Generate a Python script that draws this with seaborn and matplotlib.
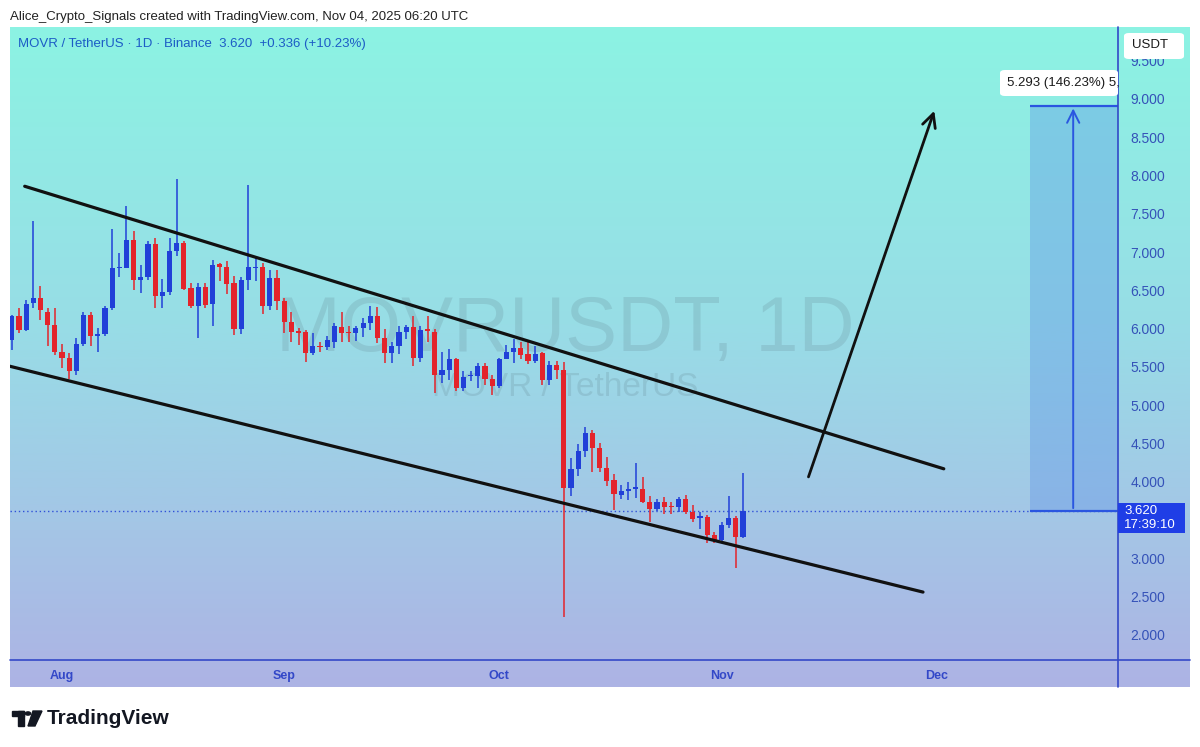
import matplotlib
matplotlib.use("Agg")
import matplotlib.pyplot as plt
import matplotlib.dates as mdates
from matplotlib.colors import LinearSegmentedColormap
from matplotlib.patches import FancyBboxPatch, Rectangle, Polygon, Circle
from matplotlib.lines import Line2D
import numpy as np
import pandas as pd
import seaborn as sns

# MOVR/USDT daily candles, Jul 25 -> Nov 4 2025
first_day = "2025-07-25"
opens = [5.85, 6.16, 5.98, 6.33, 6.40, 6.22, 6.05, 5.70, 5.62, 5.45,
         5.80, 6.18, 5.90, 5.93, 6.27, 6.79, 6.79, 7.16, 6.63, 6.68,
         7.11, 6.43, 6.48, 7.02, 7.12, 6.53, 6.29, 6.54, 6.32, 6.84,
         6.81, 6.60, 5.99, 6.64, 6.79, 6.81, 6.30, 6.66, 6.36, 6.09,
         5.97, 5.96, 5.68, 5.78, 5.76, 5.83, 6.02, 5.95, 5.94, 6.01,
         6.07, 6.16, 5.88, 5.68, 5.77, 5.96, 6.02, 5.62, 5.98, 5.96,
         5.40, 5.46, 5.60, 5.22, 5.38, 5.38, 5.51, 5.34, 5.25, 5.61,
         5.69, 5.75, 5.67, 5.58, 5.68, 5.33, 5.53, 5.46, 3.92, 4.17,
         4.40, 4.64, 4.44, 4.18, 4.03, 3.83, 3.88, 3.91, 3.91, 3.74,
         3.64, 3.73, 3.68, 3.67, 3.77, 3.61, 3.53, 3.54, 3.30, 3.24,
         3.44, 3.53, 3.28]
highs = [6.18, 6.27, 6.37, 7.40, 6.56, 6.27, 6.27, 5.80, 5.68, 5.88,
         6.22, 6.22, 6.01, 6.29, 7.30, 6.99, 7.60, 7.28, 6.83, 7.15,
         7.18, 6.65, 7.18, 7.96, 7.14, 6.60, 6.60, 6.60, 6.90, 6.86,
         6.88, 6.69, 6.68, 7.88, 6.93, 6.86, 6.77, 6.77, 6.40, 6.22,
         6.01, 5.98, 5.95, 5.83, 5.90, 6.08, 6.22, 6.04, 6.04, 6.14,
         6.29, 6.28, 5.99, 5.83, 6.04, 6.05, 6.17, 6.03, 6.17, 6.00,
         5.70, 5.73, 5.62, 5.45, 5.45, 5.55, 5.55, 5.40, 5.62, 5.79,
         5.86, 5.83, 5.85, 5.77, 5.70, 5.58, 5.58, 5.57, 4.31, 4.50,
         4.72, 4.68, 4.51, 4.32, 4.10, 3.96, 4.00, 4.24, 4.06, 3.82,
         3.78, 3.80, 3.73, 3.80, 3.83, 3.70, 3.61, 3.57, 3.35, 3.47,
         3.81, 3.56, 4.11]
lows = [5.72, 5.95, 5.97, 6.27, 6.11, 5.77, 5.66, 5.49, 5.34, 5.40,
        5.77, 5.77, 5.70, 5.90, 6.24, 6.68, 6.79, 6.51, 6.46, 6.64,
        6.27, 6.27, 6.44, 6.95, 6.51, 6.27, 5.88, 6.27, 6.03, 6.62,
        6.45, 5.92, 5.93, 6.51, 6.62, 6.19, 6.25, 6.25, 5.94, 5.83,
        5.79, 5.57, 5.66, 5.69, 5.72, 5.75, 5.83, 5.83, 5.84, 5.89,
        5.98, 5.81, 5.55, 5.55, 5.67, 5.86, 5.51, 5.57, 5.83, 5.16,
        5.29, 5.33, 5.18, 5.18, 5.32, 5.22, 5.27, 5.14, 5.22, 5.60,
        5.55, 5.60, 5.54, 5.55, 5.27, 5.27, 5.34, 2.24, 3.81, 4.07,
        4.32, 4.13, 4.13, 3.94, 3.63, 3.77, 3.76, 3.79, 3.72, 3.48,
        3.62, 3.58, 3.58, 3.61, 3.58, 3.48, 3.38, 3.20, 3.20, 3.23,
        3.40, 2.87, 3.27]
closes = [6.16, 5.98, 6.32, 6.40, 6.24, 6.05, 5.69, 5.62, 5.45, 5.80,
          6.18, 5.90, 5.93, 6.27, 6.79, 6.81, 7.16, 6.63, 6.68, 7.11,
          6.43, 6.48, 7.02, 7.12, 6.52, 6.29, 6.54, 6.31, 6.83, 6.81,
          6.59, 5.99, 6.64, 6.80, 6.81, 6.30, 6.66, 6.36, 6.09, 5.96,
          5.94, 5.68, 5.77, 5.76, 5.85, 6.03, 5.94, 5.94, 6.01, 6.07,
          6.16, 5.88, 5.68, 5.77, 5.96, 6.02, 5.62, 5.98, 5.97, 5.40,
          5.46, 5.60, 5.22, 5.37, 5.40, 5.51, 5.34, 5.25, 5.61, 5.69,
          5.75, 5.66, 5.58, 5.67, 5.33, 5.53, 5.46, 3.92, 4.17, 4.40,
          4.64, 4.44, 4.18, 4.01, 3.84, 3.88, 3.91, 3.92, 3.74, 3.64,
          3.73, 3.67, 3.67, 3.77, 3.61, 3.51, 3.54, 3.30, 3.23, 3.44,
          3.53, 3.28, 3.62]

price_ticks = [2.0, 2.5, 3.0, 4.0, 4.5, 5.0, 5.5, 6.0, 6.5, 7.0, 7.5, 8.0, 8.5, 9.0, 9.5]
month_ticks = ["2025-08-01", "2025-09-01", "2025-10-01", "2025-11-01", "2025-12-01"]
month_labels = ["Aug", "Sep", "Oct", "Nov", "Dec"]

# drawings on the chart, x as days after Aug 1
upper_days = [-5.2, 123.0]
upper_prices = [7.86, 4.17]
lower_days = [-7.3, 120.1]
lower_prices = [5.51, 2.56]
arrow_days = [104.0, 121.8]
arrow_prices = [4.03, 8.88]
target_days = [135.0, 147.3]
last_price = 3.620
target_price = 8.913

W, H = 1200, 747
UP, DOWN = "#2140d8", "#e3242b"
AXIS_BLUE = "#3348c8"


def fx(px):
    return px / W


def fy(py):
    return 1 - py / H


sns.set_theme(style="white")
plt.rcParams["font.family"] = ["Liberation Sans", "DejaVu Sans"]

fig = plt.figure(figsize=(W / 100, H / 100), dpi=100)
fig.patch.set_facecolor("white")

# gradient panel behind everything
bg = fig.add_axes([fx(10), fy(687), fx(1190) - fx(10), fy(27) - fy(687)])
cmap = LinearSegmentedColormap.from_list(
    "tv", [(0, "#8cf3e3"), (0.45, "#98dde6"), (0.75, "#a4c6e6"), (1, "#adb3e4")])
bg.imshow(np.linspace(0, 1, 256)[:, None], aspect="auto", cmap=cmap,
          extent=[0, 1, 0, 1], origin="upper")
bg.axis("off")

ax = fig.add_axes([fx(10), fy(660), fx(1118) - fx(10), fy(27) - fy(660)])
ax.set_facecolor("none")

aug1 = mdates.date2num(pd.Timestamp("2025-08-01"))
dates = pd.date_range(first_day, periods=len(opens), freq="D")
x = mdates.date2num(dates)
o, h, l, c = map(np.array, (opens, highs, lows, closes))
colors = np.where(c >= o, UP, DOWN)

# watermark
ax.text(0.501, 0.521, "MOVRUSDT, 1D", transform=ax.transAxes, ha="center", va="center",
        fontsize=56, color="#5d7d88", alpha=0.2, zorder=0)
ax.text(0.501, 0.431, "MOVR / TetherUS", transform=ax.transAxes, ha="center", va="center",
        fontsize=24, color="#5d7d88", alpha=0.2, zorder=0)

# candles
ax.vlines(x, l, h, colors=colors, lw=1.1, zorder=2)
ax.bar(x, np.maximum(np.abs(c - o), 0.02), bottom=np.minimum(o, c), width=0.72,
       color=colors, linewidth=0, zorder=3)

# channel
sns.lineplot(x=aug1 + np.array(upper_days), y=upper_prices, ax=ax, color="#111111", lw=2.3, zorder=4)
sns.lineplot(x=aug1 + np.array(lower_days), y=lower_prices, ax=ax, color="#111111", lw=2.3, zorder=4)
ax.annotate("", xy=(aug1 + arrow_days[1], arrow_prices[1]),
            xytext=(aug1 + arrow_days[0], arrow_prices[0]),
            arrowprops=dict(arrowstyle="->", color="#111111", lw=2, mutation_scale=24), zorder=4)

# long-position projection
tx0, tx1 = aug1 + target_days[0], aug1 + target_days[1]
ax.add_patch(Rectangle((tx0, last_price), tx1 - tx0, target_price - last_price,
                       facecolor="#5a8ee6", alpha=0.35, lw=0, zorder=1))
ax.hlines([last_price, target_price], tx0, tx1, colors="#2a56e0", lw=1.6, zorder=4)
xm = (tx0 + tx1) / 2 - 0.1
ax.annotate("", xy=(xm, target_price), xytext=(xm, last_price),
            arrowprops=dict(arrowstyle="->", color="#2a56e0", lw=1.4, mutation_scale=22), zorder=4)

# last price dotted line
ax.axhline(last_price, color="#3050d8", lw=1, ls=(0, (1, 2)), zorder=1)

ax.set_xlim(aug1 - 7.25, aug1 + 147.3)
ax.set_ylim(1.673, 9.94)
ax.set_xticks(mdates.date2num(pd.to_datetime(month_ticks)))
ax.set_xticklabels(month_labels, fontweight="bold")
ax.yaxis.tick_right()
ax.set_yticks(price_ticks)
ax.set_yticklabels([f"{v:.3f}" for v in price_ticks])
ax.tick_params(axis="x", length=0, pad=7, labelsize=9, labelcolor=AXIS_BLUE)
ax.tick_params(axis="y", length=0, pad=9, labelsize=10, labelcolor="#3552b8")
for s in ax.spines.values():
    s.set_visible(False)
ax.grid(False)

# scale separators
fig.add_artist(Line2D([fx(1118), fx(1118)], [fy(27), fy(687)], color=AXIS_BLUE, lw=1.2))
fig.add_artist(Line2D([fx(10), fx(1190)], [fy(660), fy(660)], color=AXIS_BLUE, lw=1.2))

# labels on the price scale
fig.add_artist(FancyBboxPatch((fx(1124), fy(59)), fx(60), 26 / H, boxstyle="round,pad=0,rounding_size=0.004",
                              transform=fig.transFigure, facecolor="white", edgecolor="none", zorder=5))
fig.text(fx(1132), fy(45), "USDT", fontsize=9.5, color="#1a1a1a", va="center", zorder=6)
fig.add_artist(Rectangle((fx(1118), fy(533)), fx(67), 30 / H, transform=fig.transFigure,
                         facecolor="#1f3ee6", edgecolor="none", zorder=5))
fig.text(fx(1124), fy(511), f"{last_price:.3f}", fontsize=9.5, color="white", va="center", zorder=6)
fig.text(fx(1124), fy(525), "17:39:10", fontsize=9.5, color="white", va="center", zorder=6)

# projection label
fig.add_artist(FancyBboxPatch((fx(1000), fy(96)), fx(118), 26 / H, boxstyle="round,pad=0,rounding_size=0.004",
                              transform=fig.transFigure, facecolor="white", edgecolor="none", zorder=5))
fig.text(fx(1007), fy(83), "5.293 (146.23%) 5,", fontsize=9.5, color="#1a1a1a", va="center", zorder=6)

# headers
fig.text(fx(10), fy(17), "Alice_Crypto_Signals created with TradingView.com, Nov 04, 2025 06:20 UTC",
         fontsize=9.5, color="#222222", va="center")
fig.text(fx(18), fy(44), "MOVR / TetherUS · 1D · Binance  3.620  +0.336 (+10.23%)",
         fontsize=9.5, color="#1c5cc6", va="center")

# TradingView logo
logo = "#131722"
fig.add_artist(Rectangle((fx(12), fy(716)), fx(12), 5 / H, transform=fig.transFigure, color=logo))
fig.add_artist(Rectangle((fx(18), fy(726)), fx(6), 15 / H, transform=fig.transFigure, color=logo))
fig.add_artist(Circle((fx(28), fy(713.5)), fx(2.6), transform=fig.transFigure, color=logo))
fig.add_artist(Polygon([(fx(33), fy(711)), (fx(42), fy(711)), (fx(35), fy(726)), (fx(28), fy(726))],
                       closed=True, transform=fig.transFigure, color=logo))
fig.text(fx(47), fy(718), "TradingView", fontsize=15, fontweight="bold", color=logo, va="center")

fig.savefig("out.png", dpi=100)
